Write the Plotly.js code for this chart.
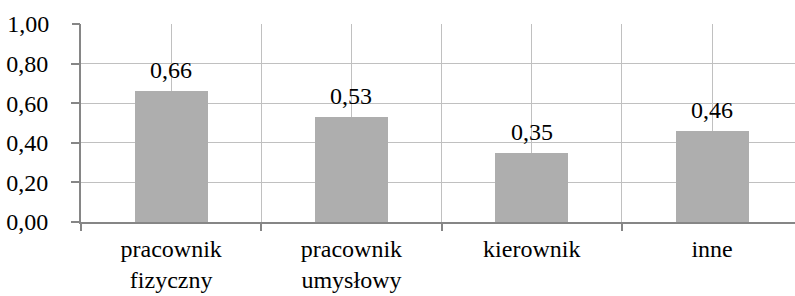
<!DOCTYPE html>
<html>
<head>
<meta charset="utf-8">
<script src="https://cdn.plot.ly/plotly-3.0.1.min.js"></script>
<style>html,body{margin:0;padding:0;background:#fff;}#chart{width:795px;height:296px;}</style>
</head>
<body>
<div id="chart"></div>
<script>
var categories = ["pracownik<br>fizyczny", "pracownik<br>umysłowy", "kierownik", "inne"];
var values = [0.66, 0.53, 0.35, 0.46];
var valueLabels = ["0,66", "0,53", "0,35", "0,46"];
var gridTicks = [0, 0.2, 0.4, 0.6, 0.8];
var gridTickText = ["0,00", "0,20", "0,40", "0,60", "0,80"];
var topTick = [1.0];
var topTickText = ["1,00"];

var FONT = "Times New Roman";
var GRID = "#C0C0C0";
var AXIS = "#868686";

var bars = {
  type: "bar",
  x: categories,
  y: values,
  width: 0.405,
  marker: {color: "#AEAEAE", line: {width: 0}},
  hoverinfo: "none",
  showlegend: false
};
var centers = {
  type: "scatter", mode: "markers",
  x: categories, y: values,
  xaxis: "x2", yaxis: "y",
  marker: {opacity: 0}, hoverinfo: "none", showlegend: false
};
var topAxisTrace = {
  type: "scatter", mode: "markers",
  x: categories, y: values,
  xaxis: "x", yaxis: "y2",
  marker: {opacity: 0}, hoverinfo: "none", showlegend: false
};

var annotations = categories.map(function (c, i) {
  return {
    x: c, y: values[i], xref: "x", yref: "y",
    text: valueLabels[i], showarrow: false,
    yanchor: "bottom", yshift: 6,
    font: {family: FONT, size: 24, color: "#000"}
  };
});

var xrange = [-0.5, 3.46];
var layout = {
  width: 795, height: 296,
  margin: {l: 81, r: 0, t: 24, b: 74},
  paper_bgcolor: "#fff", plot_bgcolor: "#fff",
  font: {family: FONT, size: 24, color: "#000"},
  bargap: 0,
  xaxis: {
    type: "category", range: xrange,
    tickson: "boundaries", showgrid: true, gridcolor: GRID, gridwidth: 1.3,
    ticks: "outside", ticklen: 7, tickcolor: AXIS, tickwidth: 1.5,
    showline: true, linecolor: AXIS, linewidth: 2,
    tickfont: {family: FONT, size: 24, color: "#000"},
    ticklabelstandoff: 4,
    zeroline: false, fixedrange: true
  },
  xaxis2: {
    type: "category", range: xrange, overlaying: "x",
    showgrid: true, gridcolor: GRID, gridwidth: 1.3,
    showticklabels: false, ticks: "", showline: false, zeroline: false
  },
  yaxis: {
    range: [0, 1.0], tickvals: gridTicks, ticktext: gridTickText,
    showgrid: true, gridcolor: GRID, gridwidth: 1.3,
    ticks: "outside", ticklen: 8, tickcolor: AXIS, tickwidth: 1.5,
    showline: true, linecolor: AXIS, linewidth: 2,
    tickfont: {family: FONT, size: 24, color: "#000"},
    ticklabelstandoff: 18,
    zeroline: false, fixedrange: true
  },
  yaxis2: {
    range: [0, 1.0], overlaying: "y", side: "left",
    tickvals: topTick, ticktext: topTickText,
    showgrid: false, ticks: "outside", ticklen: 8, tickcolor: AXIS, tickwidth: 1.5,
    showline: false,
    tickfont: {family: FONT, size: 24, color: "#000"},
    ticklabelstandoff: 18,
    zeroline: false, fixedrange: true
  },
  annotations: annotations
};

Plotly.newPlot("chart", [bars, centers, topAxisTrace], layout, {displayModeBar: false});
</script>
</body>
</html>
